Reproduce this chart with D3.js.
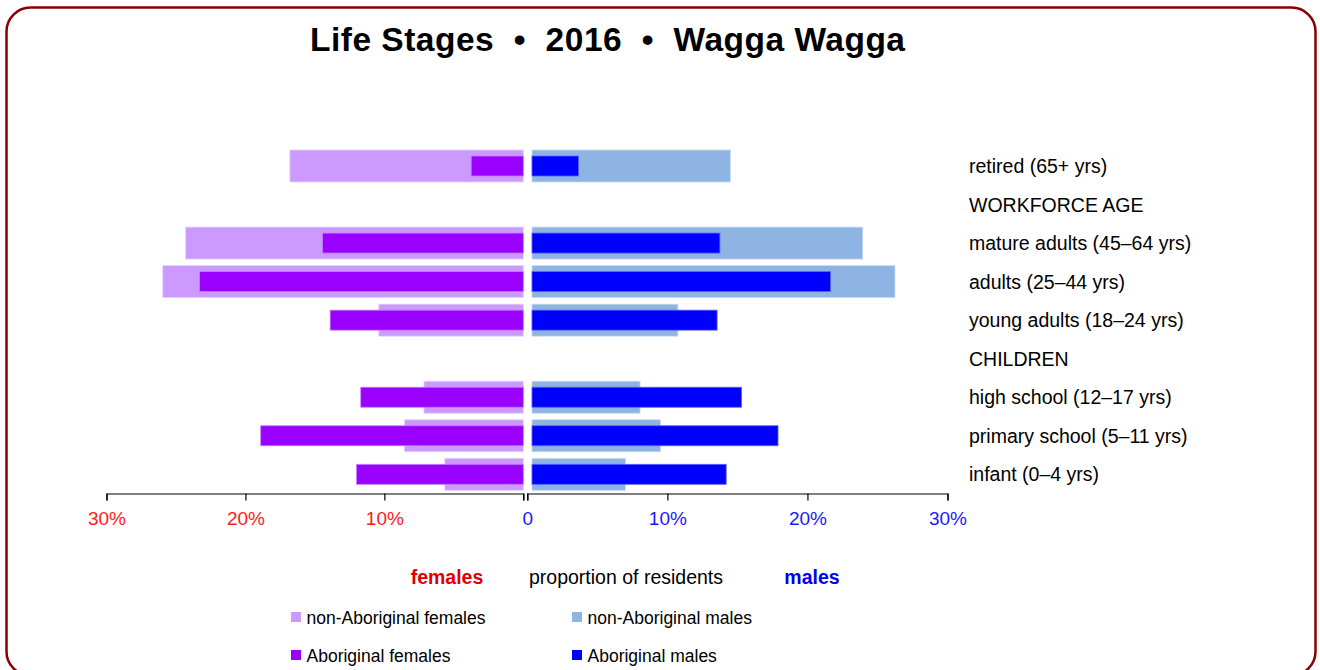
<!DOCTYPE html>
<html>
<head>
<meta charset="utf-8">
<script src="https://cdn.jsdelivr.net/npm/d3@7"></script>
<style>
  html, body { margin: 0; padding: 0; background: #fff; }
  svg { display: block; font-family: "Liberation Sans", Arial, sans-serif; }
</style>
</head>
<body>
<svg id="chart" width="1320" height="670"></svg>
<script>
// ---- data ----
const categories = [
  "retired (65+ yrs)",
  "WORKFORCE AGE",
  "mature adults (45–64 yrs)",
  "adults (25–44 yrs)",
  "young adults (18–24 yrs)",
  "CHILDREN",
  "high school (12–17 yrs)",
  "primary school (5–11 yrs)",
  "infant (0–4 yrs)"
];
// null = header row (no bars)
const nonAboriginalFemales = [16.8, null, 24.3, 25.95, 10.4, null, 7.15, 8.55, 5.65];
const aboriginalFemales    = [3.75, null, 14.45, 23.3, 13.9, null, 11.7, 18.9, 12.0];
const nonAboriginalMales   = [14.5, null, 23.95, 26.25, 10.75, null, 8.05, 9.5, 7.0];
const aboriginalMales      = [3.65, null, 13.75, 21.65, 13.55, null, 15.3, 17.9, 14.2];
const tickValues = [0, 10, 20, 30];
const tickLabelsF = ["", "10%", "20%", "30%"];
const tickLabelsM = ["0", "10%", "20%", "30%"];
const legendItems = [
  { label: "non-Aboriginal females", key: "nfa" },
  { label: "non-Aboriginal males", key: "nma" },
  { label: "Aboriginal females", key: "fa" },
  { label: "Aboriginal males", key: "ma" }
];

const colors = { nfa: "#cc99ff", fa: "#9900ff", nma: "#8db4e2", ma: "#0000ff" };

const svg = d3.select("#chart");

// frame
svg.append("rect")
  .attr("x", 6.5).attr("y", 7.5).attr("width", 1309).attr("height", 668)
  .attr("rx", 24).attr("ry", 24)
  .attr("fill", "none").attr("stroke", "#8b0000").attr("stroke-width", 2.5);

// title
svg.append("text")
  .attr("x", 607.5).attr("y", 51)
  .attr("text-anchor", "middle")
  .attr("font-size", 33.5).attr("font-weight", "bold")
  .attr("fill", "#000")
  .attr("textLength", 595).attr("lengthAdjust", "spacing")
  .style("white-space", "pre")
  .text("Life Stages  •  2016  •  Wagga Wagga");

// scales
const xF = d3.scaleLinear().domain([0, 30]).range([523.3, 106.5]);
const xM = d3.scaleLinear().domain([0, 30]).range([527.3, 947.5]);
const y = d3.scalePoint().domain(categories).range([166, 474.3]);
const hWide = 32, hNarrow = 20;
const maleStart = xM(0) + 4.7;

const rows = categories.map((c, i) => ({
  c, nfa: nonAboriginalFemales[i], fa: aboriginalFemales[i],
  nma: nonAboriginalMales[i], ma: aboriginalMales[i]
})).filter(d => d.nfa !== null);

const g = svg.append("g");
// female non-Aboriginal
g.selectAll(".nfa").data(rows).join("rect")
  .attr("x", d => xF(d.nfa)).attr("y", d => y(d.c) - hWide / 2)
  .attr("width", d => xF(0) - xF(d.nfa)).attr("height", hWide)
  .attr("fill", colors.nfa).attr("stroke", "#e6d0ff").attr("stroke-width", 0.8);
// male non-Aboriginal
g.selectAll(".nma").data(rows).join("rect")
  .attr("x", maleStart).attr("y", d => y(d.c) - hWide / 2)
  .attr("width", d => xM(d.nma) - maleStart).attr("height", hWide)
  .attr("fill", colors.nma).attr("stroke", "#c8dbf2").attr("stroke-width", 0.8);
// female Aboriginal
g.selectAll(".fa").data(rows).join("rect")
  .attr("x", d => xF(d.fa)).attr("y", d => y(d.c) - hNarrow / 2)
  .attr("width", d => xF(0) - xF(d.fa)).attr("height", hNarrow)
  .attr("fill", colors.fa).attr("stroke", "#c080ff").attr("stroke-width", 0.8);
// male Aboriginal
g.selectAll(".ma").data(rows).join("rect")
  .attr("x", maleStart).attr("y", d => y(d.c) - hNarrow / 2)
  .attr("width", d => xM(d.ma) - maleStart).attr("height", hNarrow)
  .attr("fill", colors.ma).attr("stroke", "#6060ff").attr("stroke-width", 0.8);

// category labels
svg.append("g").selectAll("text").data(categories).join("text")
  .attr("x", 969).attr("y", d => y(d) + 7)
  .attr("font-size", 19.5).attr("fill", "#000")
  .text(d => d);

// axes
const axisY = 493.5;
const axF = d3.axisBottom(xF).tickValues(tickValues).tickSize(7).tickPadding(11)
  .tickFormat((d, i) => tickLabelsF[i]);
const axM = d3.axisBottom(xM).tickValues(tickValues).tickSize(7).tickPadding(11)
  .tickFormat((d, i) => tickLabelsM[i]);

const gF = svg.append("g").attr("transform", `translate(0,${axisY})`).call(axF);
const gM = svg.append("g").attr("transform", `translate(0,${axisY})`).call(axM);
[gF, gM].forEach(a => {
  a.select(".domain").attr("stroke", "#000").attr("stroke-width", 1.2);
  a.selectAll(".tick line").attr("stroke", "#000").attr("stroke-width", 1.2);
  a.selectAll(".tick text").attr("font-size", 19).attr("font-family", "Liberation Sans, Arial, sans-serif");
});
gF.selectAll(".tick text").attr("fill", "#ff1a1a");
gM.selectAll(".tick text").attr("fill", "#1a1aff");

// axis titles
svg.append("text").attr("x", 447).attr("y", 584).attr("text-anchor", "middle")
  .attr("font-size", 19.5).attr("font-weight", "bold").attr("fill", "#e00000").text("females");
svg.append("text").attr("x", 626).attr("y", 584).attr("text-anchor", "middle")
  .attr("font-size", 19.5).attr("fill", "#000").text("proportion of residents");
svg.append("text").attr("x", 812).attr("y", 584).attr("text-anchor", "middle")
  .attr("font-size", 19.5).attr("font-weight", "bold").attr("fill", "#0000ee").text("males");

// legend
const legX = [291, 572], legY = [617, 655];
const lg = svg.append("g").selectAll("g").data(legendItems).join("g")
  .attr("transform", (d, i) => `translate(${legX[i % 2]},${legY[Math.floor(i / 2)]})`);
lg.append("rect").attr("x", 0).attr("y", -5).attr("width", 10).attr("height", 10)
  .attr("fill", d => colors[d.key]);
lg.append("text").attr("x", 15.5).attr("y", 7).attr("font-size", 17.5).attr("fill", "#000")
  .text(d => d.label);
</script>
</body>
</html>
